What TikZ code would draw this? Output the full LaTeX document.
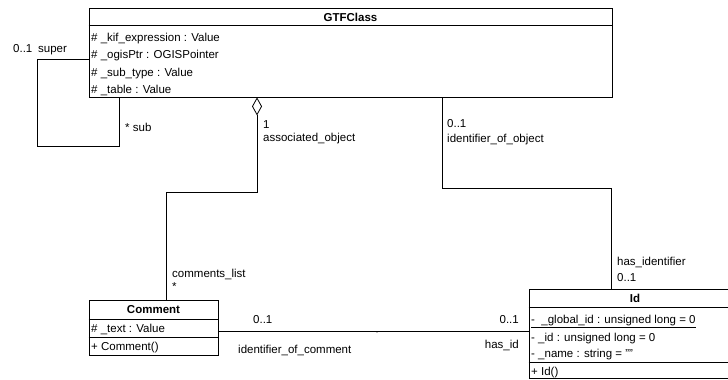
\documentclass[tikz,border=0pt]{standalone}
\usepackage{fontspec}
\setmainfont{Liberation Sans}
\usetikzlibrary{arrows.meta}
\tikzset{
  classbox/.style={draw, line width=0.8pt, rectangle, inner sep=0pt},
  sep/.style={line width=0.8pt},
  conn/.style={line width=0.8pt},
  aggr/.style={conn, {Diamond[open,length=18pt,width=10pt,line width=0.8pt]}-},
  lbl/.style={inner sep=0pt, text height=8.4pt, text depth=0pt, font=\fontsize{11.5}{13}\selectfont},
  lw/.style={lbl, anchor=west},
  le/.style={lbl, anchor=east},
  title/.style={lbl, font=\fontsize{11.5}{13}\selectfont\bfseries}
}
\begin{document}
\begin{tikzpicture}[x=1pt,y=-1pt]
\useasboundingbox (0,0) rectangle (728,380);
\clip (0,0) rectangle (728,380);
\fill[white] (0,0) rectangle (728,380);

% GTFClass
\node[classbox, minimum width=523pt, minimum height=89pt] (gtf) at (350.5,52.5) {};
\draw[sep] (gtf.west |- 0,25) -- (gtf.east |- 0,25);
\node[title] (gtft) at (350.5,17) {GTFClass};
\node[lw] (ga1) at (91,37) {\# \_kif\_expression : Value};
\node[lw] (ga2) at (91,54.5) {\# \_ogisPtr : OGISPointer};
\node[lw] (ga3) at (91,72) {\# \_sub\_type : Value};
\node[lw] (ga4) at (91,89) {\# \_table : Value};

% Comment
\node[classbox, minimum width=129pt, minimum height=55pt] (comment) at (153.5,327.5) {};
\draw[sep] (comment.west |- 0,319) -- (comment.east |- 0,319);
\draw[sep] (comment.west |- 0,337) -- (comment.east |- 0,337);
\node[title] (ct) at (153.5,309.5) {Comment};
\node[lw] (ca1) at (91,328.5) {\# \_text : Value};
\node[lw] (co1) at (91,346.5) {+ Comment()};

% Id
\node[classbox, minimum width=212pt, minimum height=89pt] (id) at (635,334) {};
\draw[sep] (id.west |- 0,307) -- (id.east |- 0,307);
\draw[sep] (id.west |- 0,362) -- (id.east |- 0,362);
\node[title] (idt) at (635,298.5) {Id};
\node[lw] (ia1) at (531,319) {\underline{- \ \_global\_id : unsigned long = 0}};
\node[lw] (ia2) at (531,337) {- \_id : unsigned long = 0};
\node[lw] (ia3) at (531,353) {- \_name : string = ""};
\node[lw] (io1) at (531,371) {+ Id()};

% self association
\draw[conn] (gtf.west |- 0,59) -| (37,146) -| (gtf.south -| 119,0);
\node[lw] (l1) at (13,48) {0..1};
\node[lw] (l2) at (38,48) {super};
\node[lw] (l3) at (125,127) {* sub};

% aggregation GTFClass - Comment
\draw[aggr] (gtf.south -| 257,0) -- (257,192) -| (comment.north -| 166,0);
\node[lw] (l4) at (263,124) {1};
\node[lw] (l5) at (263,137) {associated\_object};
\node[lw] (l6) at (172,273) {comments\_list};
\node[lw] (l7) at (172,286) {*};

% association GTFClass - Id
\draw[conn] (gtf.south -| 442,0) |- (611,188) -- (id.north -| 611,0);
\node[lw] (l8) at (447,123) {0..1};
\node[lw] (l9) at (447,138) {identifier\_of\_object};
\node[lw] (l10) at (617,261) {has\_identifier};
\node[lw] (l11) at (617,277) {0..1};

% association Comment - Id
\draw[conn] (comment.east |- 0,331) -- (id.west |- 0,331);
\fill (377,332) circle (0.6pt);
\node[lw] (l12) at (253,319) {0..1};
\node[lw] (l13) at (238,349) {identifier\_of\_comment};
\node[le] (l14) at (519,319) {0..1};
\node[le] (l15) at (519,344) {has\_id};
\end{tikzpicture}
\end{document}
